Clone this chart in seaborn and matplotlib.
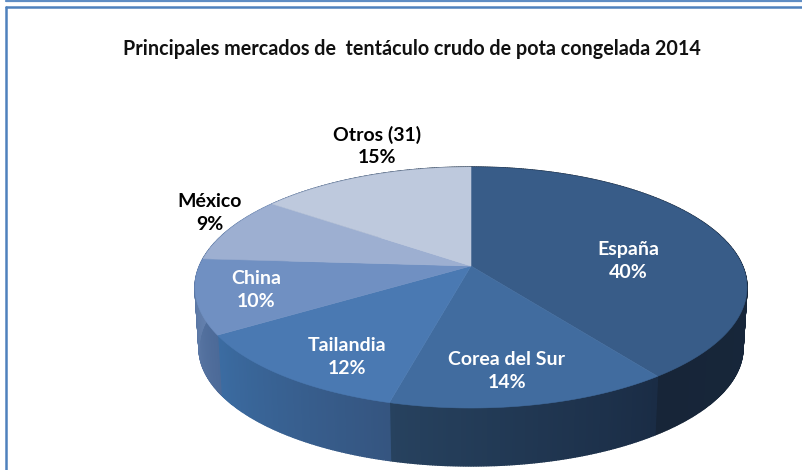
import numpy as np
import matplotlib
matplotlib.use('Agg')
import matplotlib.pyplot as plt
import seaborn as sns

# ── DATA ─────────────────────────────────────────────
mercados = ['España', 'Corea del Sur', 'Tailandia', 'China', 'México', 'Otros (31)']
valores = [40, 14, 12, 10, 9, 15]

# ── STYLE ────────────────────────────────────────────
colores_top = sns.color_palette(['#385c88', '#416c9f', '#4a79b2', '#7090c2', '#9dafd1', '#bec9dd'])
# wall shading per slice, start and end of the slice going clockwise
pared_ini = ['#182a40', '#1a2c45', '#355580', '#4c6a98', '#4c6a98', '#4c6a98']
pared_fin = ['#172538', '#27425f', '#3b6ca2', '#6480ad', '#6480ad', '#182a40']
color_texto = ['white', 'white', 'white', 'white', 'black', 'black']
pos_texto = [(628, 261), (507, 371), (347, 357), (256, 290), (210, 213), (377, 146)]

sns.set_theme(style='white')
plt.rcParams['font.family'] = ['Lato', 'DejaVu Sans']

# top ellipse, bottom ellipse and the point where the slices meet (pixels)
cx, cy, rx, ry = 471, 287.5, 276, 120.5
bx, by, brx, bry = 471, 348, 272, 118
k = (266 - cy) / ry


def proyecta(theta):
    # perspective: the centre of the circle lands on the apex, not the ellipse centre
    x = np.sin(theta)
    y = -np.cos(theta)
    d = 1 + k * y
    return x * np.sqrt(1 - k ** 2) / d, (y + k) / d


def mezcla(c1, c2, f):
    a = np.array(matplotlib.colors.to_rgb(c1))
    b = np.array(matplotlib.colors.to_rgb(c2))
    return tuple(a + (b - a) * f)


fig = plt.figure(figsize=(8.03, 4.70), dpi=100, facecolor='white')
ax = fig.add_axes([0, 0, 1, 1])
ax.set_xlim(0, 803)
ax.set_ylim(470, 0)
ax.axis('off')

cortes = np.deg2rad(np.concatenate([[0], np.cumsum(valores)]) * 3.6)

# side wall, built from thin strips so it picks up the gradient
for i in range(len(valores)):
    n = max(int(valores[i] * 8), 30)
    pasos = np.linspace(cortes[i], cortes[i + 1], n + 1)
    for j in range(n):
        u0, v0 = proyecta(pasos[j])
        u1, v1 = proyecta(pasos[j + 1])
        c = mezcla(pared_ini[i], pared_fin[i], j / n)
        ax.fill([cx + rx * u0, cx + rx * u1, bx + brx * u1, bx + brx * u0],
                [cy + ry * v0, cy + ry * v1, by + bry * v1, by + bry * v0],
                color=c, lw=1.0, zorder=2)

# top surface
for i in range(len(valores)):
    t = np.linspace(cortes[i], cortes[i + 1], 120)
    u, v = proyecta(t)
    ax.fill(np.r_[471, cx + rx * u], np.r_[266, cy + ry * v],
            color=colores_top[i], lw=0.4, zorder=3)

# labels
for nombre, val, c, (px, py) in zip(mercados, valores, color_texto, pos_texto):
    ax.text(px, py, f'{nombre}\n{val}%', color=c, ha='center', va='center',
            fontsize=14, fontweight='bold', linespacing=1.36, zorder=5)

ax.text(412, 49, 'Principales mercados de  tentáculo crudo de pota congelada 2014',
        ha='center', va='center', fontsize=14.2, fontweight='bold', color='#111111')

# frame of the original box, only these sides are in the crop
ax.plot([6, 6], [470, 7], color='#4f81bd', lw=1.8, zorder=6)
ax.plot([6, 803], [7, 7], color='#4f81bd', lw=1.8, zorder=6)
ax.plot([6, 803], [1, 1], color='#5f8dc4', lw=1.6, zorder=6)

plt.savefig('out.png', dpi=100)
